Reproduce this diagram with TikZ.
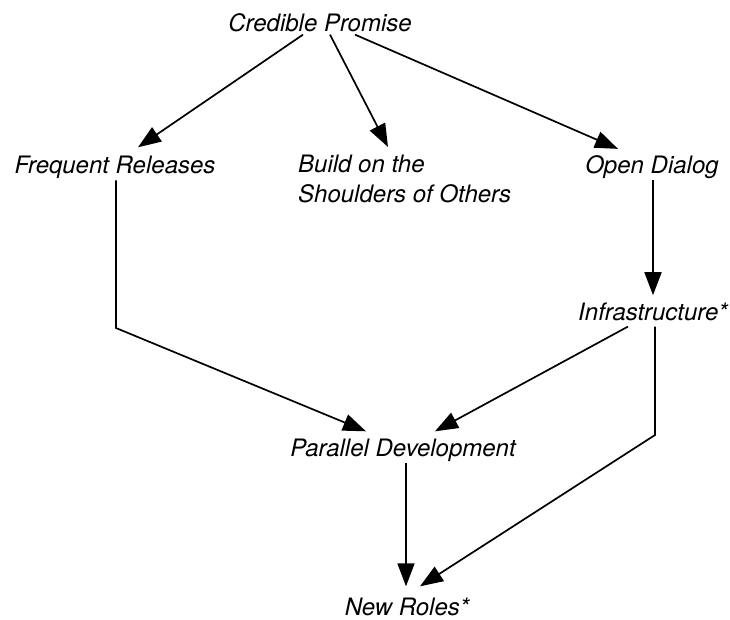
\documentclass[tikz,border=0pt]{standalone}
\usepackage{fontspec}
\setmainfont{TeX Gyre Heros}
\usetikzlibrary{arrows.meta}

\begin{document}
\begin{tikzpicture}[x=1pt,y=-1pt,
  lbl/.style={inner sep=0pt,font=\fontsize{24}{30}\selectfont\itshape},
  arr/.style={line width=1.7pt,-{Triangle[length=23pt,width=17pt]}}]
  \useasboundingbox (0,0) rectangle (730,619);

  \node[lbl,anchor=base] (cp) at (320,31) {Credible Promise};
  \node[lbl,anchor=base] (fr) at (115,173) {Frequent Releases};
  \node[lbl,anchor=north west,align=left] (bs) at (298,155) {Build on the\\Shoulders of Others};
  \node[lbl,anchor=base] (od) at (652,173) {Open Dialog};
  \node[lbl,anchor=base] (inf) at (653,320) {Infrastructure*};
  \node[lbl,anchor=base] (pd) at (403,456) {Parallel Development};
  \node[lbl,anchor=base] (nr) at (407,615) {New Roles*};

  \coordinate (frbend) at (116,328);
  \coordinate (infbend) at (655,435);

  \draw[arr] ([xshift=-17pt,yshift=-3pt]cp.south) -- ([xshift=23pt,yshift=8pt]fr.north);
  \draw[arr] ([xshift=10pt,yshift=-3pt]cp.south) -- ([xshift=90pt,yshift=8pt]bs.north west);
  \draw[arr] ([xshift=35pt,yshift=-3pt]cp.south) -- ([xshift=-34pt,yshift=6pt]od.north);

  \draw[arr] ([xshift=1pt,yshift=-2pt]od.south) -- ([xshift=0pt,yshift=7pt]inf.north);
  \draw[arr] ([xshift=1pt,yshift=-2pt]fr.south) -- (frbend) -- ([xshift=-37pt,yshift=7pt]pd.north);
  \draw[arr] ([xshift=-25pt,yshift=-6pt]inf.south) -- ([xshift=32pt,yshift=7pt]pd.north);
  \draw[arr] ([xshift=2pt,yshift=-6pt]inf.south) -- (infbend) -- ([xshift=13pt,yshift=11pt]nr.north);
  \draw[arr] ([xshift=3pt,yshift=-2pt]pd.south) -- ([xshift=-1pt,yshift=11pt]nr.north);
\end{tikzpicture}
\end{document}
